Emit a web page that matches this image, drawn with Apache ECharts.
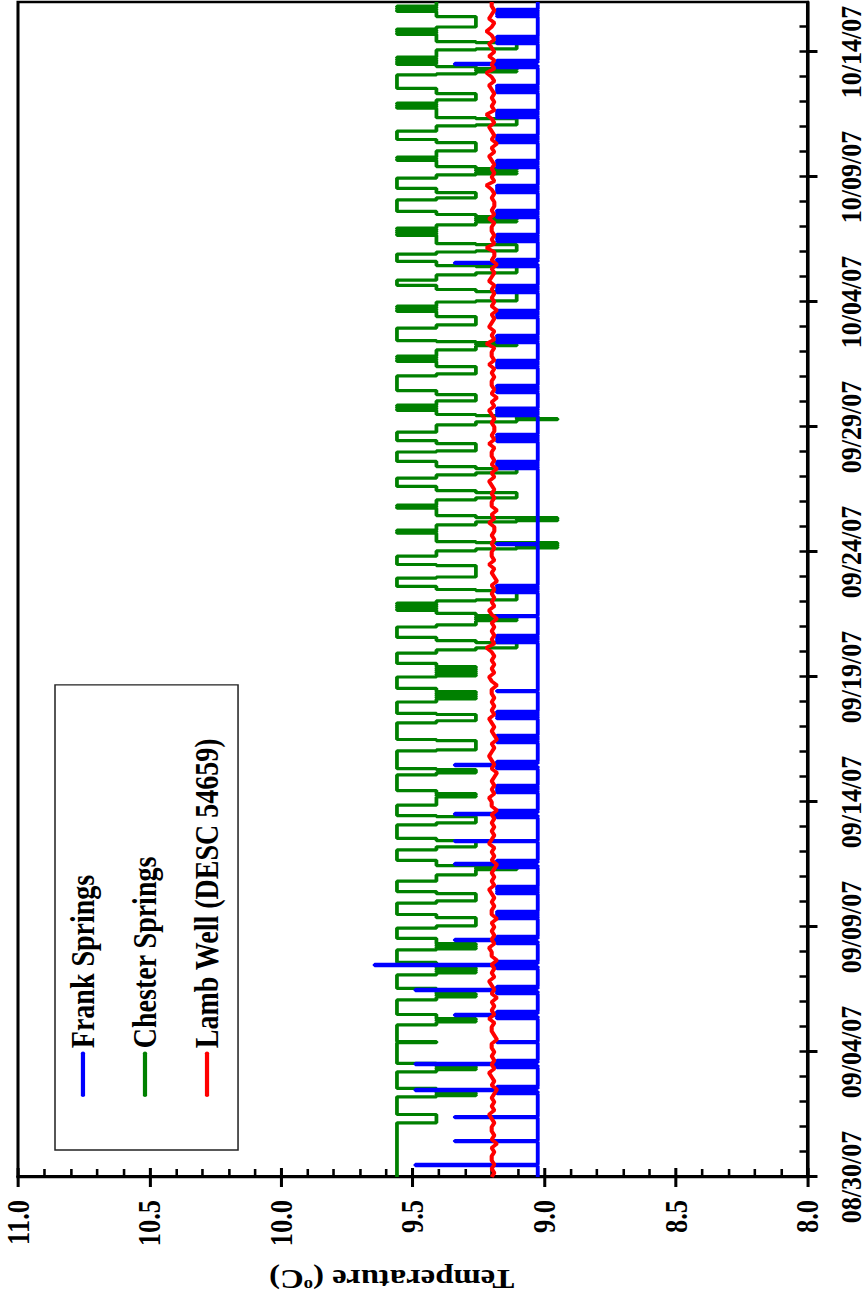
<!DOCTYPE html>
<html><head><meta charset="utf-8">
<script src="https://cdn.jsdelivr.net/npm/echarts@6/dist/echarts.min.js"></script>
<style>
html,body{margin:0;padding:0;width:866px;height:1304px;overflow:hidden;background:#fff;}
#chart{position:absolute;left:0;top:0;width:1304px;height:740px;transform-origin:0 0;transform:translate(0px,1304px) rotate(-90deg) scale(1,1.17027);}
</style></head><body><div id="chart"></div>
<script>
// ---- data ----
const dateLabels = ['08/30/07','09/04/07','09/09/07','09/14/07','09/19/07','09/24/07','09/29/07','10/04/07','10/09/07','10/14/07'];
const dateTickDays = [0,5,10,15,20,25,30,35,40,45];
const dayTicks = [0,1,2,3,4,5,6,7,8,9,10,11,12,13,14,15,16,17,18,19,20,21,22,23,24,25,26,27,28,29,30,31,32,33,34,35,36,37,38,39,40,41,42,43,44,45,46];
const dayCount = 47;

// logger levels (deg C)
const frankLevels = [9.025, 9.18, 9.34, 9.49, 9.645];
const chesterLevels = [9.56, 9.41, 9.26, 9.105, 8.95];

// hourly level codes, one string per day (index into level arrays)
const frankHourly = [
'000000000003000000000000','000000000020000000000000','000000000200000000000000','000000001013101000000000',
'000000000101310100000000','000000000100000000000000','000000001012101000000000','000000001013101000000000',
'000000001014101000000000','000000001012101000000000','000000001010101000000000','000000001010101000000000',
'000000000101210100000000','000000000020000000000000','000000000101210100000000','000000000101010100000000',
'000000001012101000000000','000000000101010100000000','000000001010101000000000','000000000010000000000000',
'000000000000000000000000','000000000101010100000000','000000000010000000000000','000000000101010100000000',
'000000000000000000000000','000000010000000000000000','000000000000000000000000','000000000000000000000000',
'000000001010101000000000','000000000010101010000000','000000000001010101000000','000000000101010100000000',
'000000000101010100000000','000000000101010100000000','000000000101010100000000','000000000101010100000000',
'000000000010121010000000','000000000010101010000000','000000000101010100000000','000000000101010100000000',
'000000000101010100000000','000000000101010100000000','000000000101010100000000','000000000101010100000000',
'000000000101210100000000','000000001010101000000000','000000000010101010000000'
];
const chesterHourly = [
'000000000000000000000000','000000000000000000000000','000011111111000000000000','000001212121100000000000',
'000001121211100000000000','000000000100000000000000','001112121111000000000000','001112121111100000000000',
'001121212121110000000000','001212121111100000000001','122222222111000000000001','122222221100000000001111',
'112222232321111100000000','001112222221100000000000','001122222210000000000111','111112121110000000000000',
'001122210000000000000000','012222222221000000000000','000011222222100000000000','111212121211100000000000',
'121212121211100000000001','112233333221110000000000','112222323232211101010101','123333333332111000000001',
'222222222221000000001111','122343434211111111010111','112223434221111111010111','112233333221111000000001',
'112233332211111000000000','122222221110000000011111','112223343332111101010111','122222211110000000000000',
'011222222211111010101111','112222323210000000000001','112222222211111010101111','233333333322111100000111',
'112233333321111000000011','233333321111111101010101','112223232322111000000000','001122222111100000000001',
'112323232211111101011111','122222222111000000001111','123333332111111111010101','112222221111100000000000',
'001223232211010101011111','112333333211111110101011','222222222211111010101111'
];
// Lamb Well, one value every 4 hours
const lambWell = [
9.20,9.19,9.20,9.19,9.20,9.20, 9.19,9.20,9.18,9.20,9.19,9.20, 9.20,9.19,9.20,9.21,9.19,9.20, 9.19,9.20,9.19,9.18,9.20,9.19,
9.20,9.21,9.19,9.20,9.19,9.20, 9.19,9.20,9.20,9.18,9.19,9.20, 9.20,9.19,9.21,9.19,9.20,9.19, 9.20,9.18,9.20,9.19,9.20,9.21,
9.19,9.20,9.19,9.20,9.18,9.20, 9.20,9.21,9.19,9.20,9.19,9.20, 9.19,9.20,9.18,9.20,9.20,9.19, 9.20,9.19,9.20,9.21,9.19,9.20,
9.19,9.20,9.19,9.18,9.20,9.19, 9.20,9.19,9.21,9.20,9.19,9.20, 9.19,9.20,9.19,9.20,9.18,9.20, 9.20,9.21,9.19,9.20,9.19,9.20,
9.19,9.18,9.20,9.19,9.20,9.21, 9.20,9.19,9.20,9.18,9.19,9.20, 9.19,9.20,9.21,9.19,9.20,9.19, 9.20,9.19,9.20,9.20,9.18,9.20,
9.21,9.19,9.20,9.19,9.20,9.19, 9.20,9.22,9.19,9.20,9.19,9.20, 9.19,9.20,9.18,9.20,9.21,9.19, 9.20,9.19,9.20,9.19,9.20,9.18,
9.19,9.20,9.19,9.21,9.19,9.20, 9.20,9.19,9.20,9.19,9.20,9.19, 9.19,9.21,9.19,9.20,9.18,9.20, 9.20,9.19,9.20,9.19,9.20,9.21,
9.19,9.20,9.18,9.20,9.19,9.20, 9.20,9.19,9.21,9.19,9.20,9.19, 9.19,9.20,9.19,9.20,9.21,9.19, 9.20,9.18,9.20,9.19,9.20,9.20,
9.19,9.20,9.19,9.21,9.19,9.20, 9.20,9.19,9.22,9.19,9.20,9.19, 9.21,9.20,9.19,9.20,9.18,9.20, 9.19,9.20,9.19,9.20,9.19,9.21,
9.20,9.19,9.20,9.18,9.20,9.19, 9.19,9.22,9.19,9.20,9.19,9.20, 9.20,9.19,9.21,9.19,9.20,9.19, 9.19,9.20,9.19,9.20,9.22,9.19,
9.20,9.19,9.20,9.19,9.20,9.21, 9.19,9.20,9.18,9.20,9.19,9.20, 9.21,9.19,9.20,9.22,9.19,9.20, 9.19,9.20,9.19,9.20,9.21,9.19,
9.20,9.22,9.19,9.20,9.19,9.21, 9.19,9.20,9.21,9.19,9.20,9.22, 9.20,9.19,9.21,9.20,9.19,9.20, 9.20
];

// ---- build series ----
function fromCodes(days, levels) {
  const out = [];
  days.forEach((s, d) => { for (let h = 0; h < 24; h++) out.push([d + h / 24, levels[+s[h]]]); });
  out.push([dayCount, levels[+days[days.length - 1][23]]]);
  return out;
}
const frankData = fromCodes(frankHourly, frankLevels);
const chesterData = fromCodes(chesterHourly, chesterLevels);
const lambData = lambWell.map((v, i) => [i / 6, v]);

const FF = "'Liberation Serif','Times New Roman',serif";
const S = 866 / 740;
const chart = echarts.init(document.getElementById('chart'), null, {renderer: 'svg'});
chart.setOption({
  animation: false,
  grid: {left: 127, right: 2, top: 18 / S, bottom: 58 / S, show: true, borderColor: '#000', borderWidth: 2.6},
  legend: {
    orient: 'vertical', left: 154, top: 55 / S,
    padding: [9.9, 53, 12.5, 53], itemWidth: 42, itemHeight: 28, itemGap: 25,
    borderColor: '#222', borderWidth: 1.3, backgroundColor: '#fff',
    itemStyle: {opacity: 0},
    lineStyle: {width: 3.6, cap: 'round'},
    textStyle: {fontFamily: FF, fontWeight: 'bold', fontSize: 28, color: '#000'},
    data: ['Frank Springs', 'Chester Springs', 'Lamb Well (DESC 54659)']
  },
  xAxis: [{
    type: 'value', min: 0, max: dayCount, position: 'bottom',
    axisLine: {show: true, onZero: false, lineStyle: {color: '#000', width: 2.6}},
    axisTick: {show: true, inside: false, length: 10 / S, customValues: dateTickDays, lineStyle: {color: '#000', width: 3}},
    axisLabel: {customValues: dateTickDays, formatter: v => dateLabels[dateTickDays.indexOf(v)] || '',
      fontFamily: FF, fontWeight: 'bold', fontSize: 26, color: '#000', margin: 24},
    splitLine: {show: false}
  }, {
    type: 'value', min: 0, max: dayCount, position: 'bottom',
    axisLine: {show: false},
    axisTick: {show: true, inside: true, length: 8 / S, customValues: dayTicks, lineStyle: {color: '#000', width: 2.6}},
    axisLabel: {show: false}, splitLine: {show: false}
  }],
  yAxis: [{
    type: 'value', min: 8, max: 11, interval: 0.5, position: 'left',
    axisLine: {show: true, onZero: false, lineStyle: {color: '#000', width: 3}},
    axisTick: {show: true, inside: false, length: 10, lineStyle: {color: '#000', width: 2.6}},
    axisLabel: {formatter: v => v.toFixed(1), fontFamily: FF, fontWeight: 'bold', fontSize: 26.5, color: '#000', margin: 23},
    splitLine: {show: false},
    name: 'Temperature ({sup|o}C)', nameLocation: 'middle', nameGap: 88,
    nameTextStyle: {fontFamily: FF, fontWeight: 'bold', fontSize: 28, color: '#000', padding: [0, 0, 0, 36],
      rich: {sup: {fontFamily: FF, fontWeight: 'bold', fontSize: 16, color: '#000', padding: [0, 0, 13, 0]}}}
  }, {
    type: 'value', min: 8, max: 11, interval: 0.5, position: 'left',
    axisLine: {show: false},
    axisTick: {show: true, inside: true, length: 9, lineStyle: {color: '#000', width: 2.6}},
    minorTick: {show: true, splitNumber: 5, length: 8, lineStyle: {color: '#000', width: 2.2}},
    axisLabel: {show: false}, splitLine: {show: false}
  }],
  series: [{
    name: 'Frank Springs', type: 'line', data: frankData, step: 'end', symbol: 'none', z: 3,
    color: '#0000ff', lineStyle: {color: '#0000ff', width: 3.3}, silent: true
  }, {
    name: 'Chester Springs', type: 'line', data: chesterData, step: 'end', symbol: 'none', z: 2,
    color: '#008000', lineStyle: {color: '#008000', width: 3.2}, silent: true
  }, {
    name: 'Lamb Well (DESC 54659)', type: 'line', data: lambData, symbol: 'none', z: 4,
    color: '#ff0000', lineStyle: {color: '#ff0000', width: 3.5}, silent: true
  }]
});
</script></body></html>
